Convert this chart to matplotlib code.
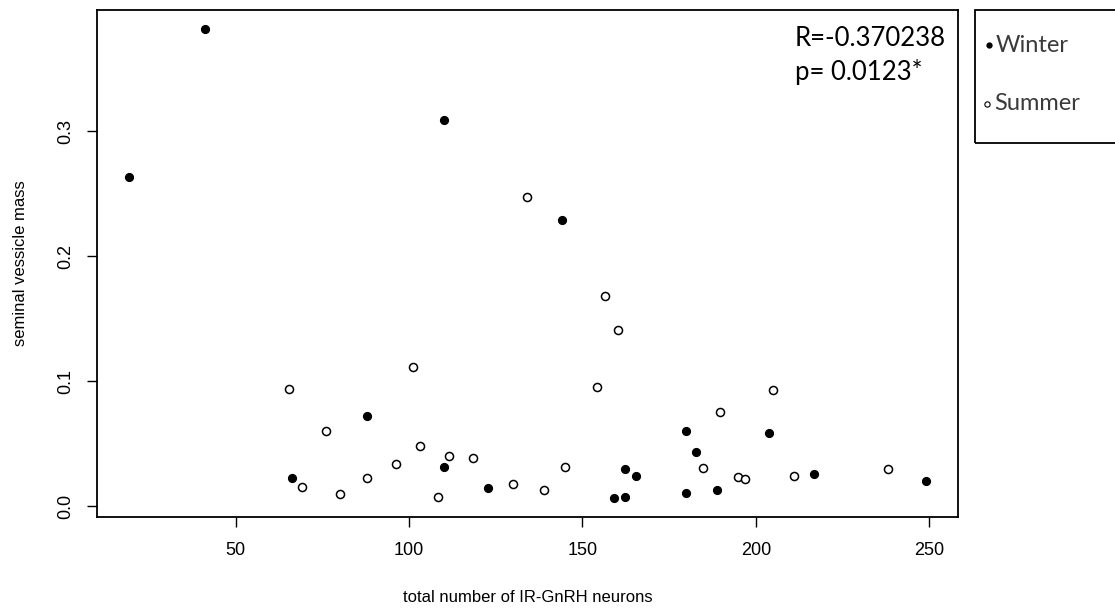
import matplotlib
matplotlib.use("Agg")
import matplotlib.pyplot as plt
from matplotlib.patches import Rectangle
from matplotlib.lines import Line2D
import numpy as np

# ---- data ----
winter_x = [19.2, 41.1, 110.2, 144.0, 88.0, 66.1, 110.2, 122.9, 159.2, 162.3,
            162.3, 165.3, 179.9, 182.8, 179.9, 188.8, 203.9, 216.8, 249.1]
winter_y = [0.263, 0.382, 0.309, 0.229, 0.072, 0.022, 0.031, 0.0142, 0.0062, 0.007,
            0.0293, 0.0236, 0.060, 0.0432, 0.0107, 0.0129, 0.0582, 0.0258, 0.0196]

summer_x = [134.1, 156.5, 160.2, 154.2, 101.1, 65.4, 76.0, 69.2, 80.0, 88.0,
            96.1, 103.2, 108.3, 111.4, 118.4, 130.0, 139.0, 145.1, 189.8, 205.0,
            184.7, 194.9, 197.0, 211.0, 238.0]
summer_y = [0.2477, 0.168, 0.1406, 0.0953, 0.1114, 0.0937, 0.0604, 0.015, 0.0094, 0.0223,
            0.0333, 0.0483, 0.007, 0.040, 0.0386, 0.0175, 0.0126, 0.0314, 0.0751, 0.0926,
            0.0303, 0.0231, 0.0212, 0.0242, 0.0295]

x_ticks = [50, 100, 150, 200, 250]
y_ticks = [0.0, 0.1, 0.2, 0.3]
y_ticklabels = ["0.0", "0.1", "0.2", "0.3"]
series_labels = ["Winter", "Summer"]
stat_text = ["R=-0.370238", "p= 0.0123*"]
xlabel = "total number of IR-GnRH neurons"
ylabel = "seminal vessicle mass"

W, H = 1115, 610
fig = plt.figure(figsize=(W / 100, H / 100), dpi=100)
ax = fig.add_axes([97 / W, 1 - 517 / H, (958 - 97) / W, (517 - 10) / H])

ax.plot(winter_x, winter_y, linestyle="none", marker="o", markersize=5.8,
        markerfacecolor="black", markeredgecolor="black", markeredgewidth=0.8)
ax.plot(summer_x, summer_y, linestyle="none", marker="o", markersize=5.8,
        markerfacecolor="white", markeredgecolor="black", markeredgewidth=1.1)

allx = np.array(winter_x + summer_x)
ally = np.array(winter_y + summer_y)
px = 0.04 * (allx.max() - allx.min())
py = 0.04 * (ally.max() - ally.min())
ax.set_xlim(allx.min() - px, allx.max() + px)
ax.set_ylim(ally.min() - py, ally.max() + py)

font_r = "Liberation Sans"
ax.set_xticks(x_ticks)
ax.set_xticklabels([str(t) for t in x_ticks], fontsize=13, family=font_r)
ax.set_yticks(y_ticks)
ax.set_yticklabels(y_ticklabels, fontsize=13, family=font_r, rotation=90, va="center")
ax.tick_params(axis="both", direction="out", length=7.5, width=1.0, pad=9, colors="black")
ax.tick_params(axis="x", pad=10.5)
for s in ax.spines.values():
    s.set_linewidth(1.3)

fig.text(527.5 / W, 1 - 597 / H, xlabel, ha="center", va="center", fontsize=12, family=font_r)
fig.text(21 / W, 1 - 263.5 / H, ylabel, ha="center", va="center", rotation=90, fontsize=12, family=font_r)

# statistics annotation
fig.text(795 / W, 1 - 38 / H, stat_text[0], ha="left", va="center", fontsize=18.5, family="Lato")
fig.text(795 / W, 1 - 72 / H, stat_text[1], ha="left", va="center", fontsize=18.5, family="Lato")

# legend box (extends past right edge)
fig.patches.append(Rectangle((975 / W, 1 - 143 / H), (1130 - 975) / W, (143 - 10) / H,
                             transform=fig.transFigure, fill=False, edgecolor="black",
                             linewidth=1.3, clip_on=False))
fig.lines.append(Line2D([989 / W], [1 - 45 / H], transform=fig.transFigure, marker="o",
                        markersize=3.5, markerfacecolor="black", markeredgecolor="black",
                        linestyle="none"))
fig.lines.append(Line2D([987 / W], [1 - 104 / H], transform=fig.transFigure, marker="o",
                        markersize=3.8, markerfacecolor="white", markeredgecolor="black",
                        markeredgewidth=0.8, linestyle="none"))
fig.text(996 / W, 1 - 46 / H, series_labels[0], ha="left", va="center", fontsize=17,
         family="Lato", color="#3a3a3a")
fig.text(994 / W, 1 - 104 / H, series_labels[1], ha="left", va="center", fontsize=17,
         family="Lato", color="#3a3a3a")

fig.savefig("out.png", dpi=100)
